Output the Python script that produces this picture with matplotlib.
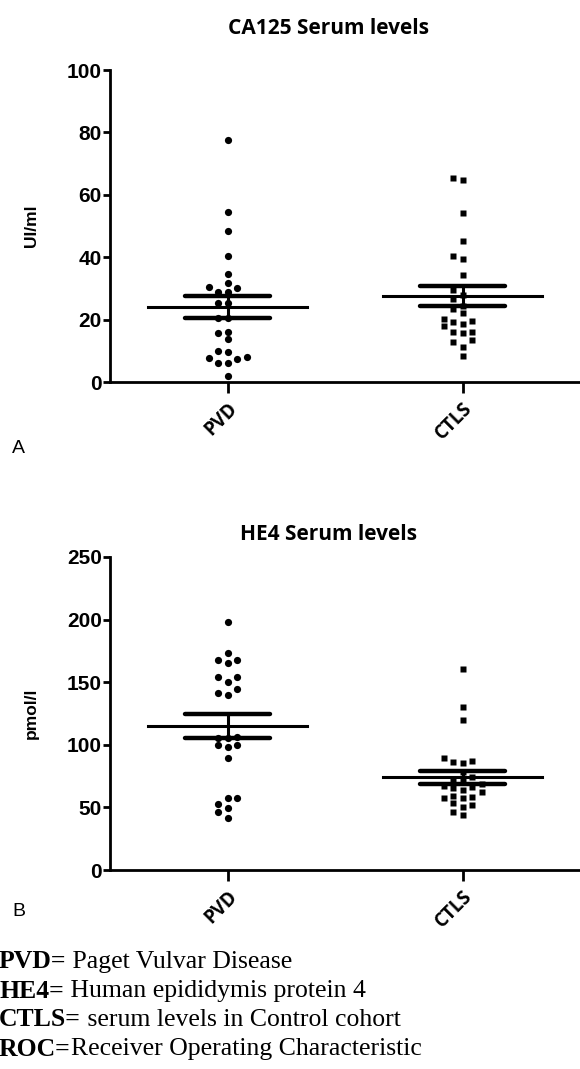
import numpy as np
import matplotlib.pyplot as plt

groups = ["PVD", "CTLS"]

# CA125 (UI/ml)
ca125_pvd = [77.6, 54.6, 48.5, 40.5, 34.5, 31.6, 30.0, 30.6, 28.7, 29.0, 25.2, 25.2,
             20.4, 20.4, 15.8, 16.1, 13.8, 9.5, 10.0, 7.3, 6.2, 6.2, 7.7, 7.9, 1.9]
ca125_ctls = [64.7, 65.3, 54.3, 45.3, 40.5, 39.4, 34.3, 29.5, 28.0, 26.5, 24.5, 23.5,
              22.0, 20.2, 19.5, 19.3, 18.5, 17.8, 16.1, 16.0, 15.6, 13.5, 12.7, 11.3, 8.3]

# HE4 (pmol/l)
he4_pvd = [197.8, 173.1, 167.7, 165.1, 167.7, 154.4, 149.9, 153.9, 141.6, 139.8, 144.8,
           105.7, 105.7, 106.0, 99.8, 99.8, 98.5, 89.7, 57.3, 52.7, 49.8, 57.3, 46.6, 41.8]
he4_ctls = [160.5, 130.5, 119.8, 89.2, 87.3, 86.0, 85.2, 78.0, 74.0, 72.0, 71.0, 69.0,
            67.0, 66.0, 65.2, 63.9, 62.6, 59.1, 58.5, 57.2, 57.2, 53.2, 51.9, 50.0, 46.6, 43.9]

notes_bold = ["PVD=", "HE4=", "CTLS=", "ROC="]
notes_text = [" Paget Vulvar Disease", " Human epididymis protein 4",
              " serum levels in Control cohort", "Receiver Operating Characteristic"]

W, H = 580, 1069
fig = plt.figure(figsize=(W / 100, H / 100), dpi=100)


def swarm(vals, px_per_unit, dot=7.0):
    # simple beeswarm: integer slots, 0, -1, +1, -2, ...
    vals = np.asarray(vals)
    slots = np.zeros(len(vals))
    placed = []
    for i in np.argsort(vals):
        y = vals[i] * px_per_unit
        for s in [0, -1, 1, -2, 2, -3, 3]:
            if all(ps != s or abs(y - py) >= dot for py, ps in placed):
                break
        placed.append((y, s))
        slots[i] = s
    return slots


def panel(rect, pvd, ctls, ymax, ystep, title, ylabel, letter, title_y, letter_y):
    ax = fig.add_axes(rect)
    ax.set_xlim(0.5, 2.5)
    ax.set_ylim(0, ymax)
    ax_h = rect[3] * H
    ax_w = rect[2] * W
    px_y = ax_h / ymax
    step_x = 9.5 / ax_w * 2.0

    for k, (vals, m) in enumerate([(pvd, 'o'), (ctls, 's')]):
        x0 = k + 1
        vals = np.asarray(vals)
        xs = x0 + swarm(vals, px_y) * step_x
        ax.plot(xs, vals, ls='', marker=m, ms=5.2 if m == 'o' else 4.8, color='black',
                mec='none', zorder=3, clip_on=False)
        mean = vals.mean()
        sem = vals.std(ddof=1) / np.sqrt(len(vals))
        ax.plot([x0 - 0.34, x0 + 0.34], [mean, mean], color='black', lw=2.2, zorder=4)
        ax.plot([x0, x0], [mean - sem, mean + sem], color='black', lw=2.2, zorder=4)
        for v in (mean - sem, mean + sem):
            ax.plot([x0 - 0.18, x0 + 0.18], [v, v], color='black', lw=3.2, zorder=4,
                    solid_capstyle='round')

    for s in ['top', 'right']:
        ax.spines[s].set_visible(False)
    for s in ['left', 'bottom']:
        ax.spines[s].set_linewidth(2)
    ax.set_yticks(np.arange(0, ymax + 1, ystep))
    ax.set_xticks([1, 2])
    ax.set_xticklabels(groups, rotation=45, ha='right', va='top', rotation_mode='anchor',
                       fontweight='bold', family='Open Sans', fontsize=13.5)
    ax.tick_params(axis='y', length=5, width=2, pad=1, labelsize=15)
    ax.tick_params(axis='x', length=8, width=2, pad=4)
    for t in ax.get_yticklabels():
        t.set_fontweight('bold')
        t.set_family('Liberation Sans')
    ax.set_ylabel(ylabel, fontweight='bold', family='Liberation Sans', fontsize=12.5,
                  labelpad=20)
    fig.text(329 / W, 1 - title_y / H, title, ha='center', va='center',
             fontweight='bold', family='Open Sans', fontsize=15)
    fig.text(12 / W, 1 - letter_y / H, letter, ha='left', va='center',
             family='Liberation Sans', fontsize=14)
    return ax


panel([110 / W, 1 - 382 / H, 470 / W, 312 / H], ca125_pvd, ca125_ctls, 100, 20,
      "CA125 Serum levels", "UI/ml", "A", 28, 448)
panel([110 / W, 1 - 870 / H, 470 / W, 313 / H], he4_pvd, he4_ctls, 250, 50,
      "HE4 Serum levels", "pmol/l", "B", 535, 912)

# footnotes: bold abbreviation followed by regular text
renderer = fig.canvas.get_renderer()
for i, (b, t) in enumerate(zip(notes_bold, notes_text)):
    y = 1 - (962 + i * 29) / H
    tb = fig.text(-1 / W, y, b, ha='left', va='center', family='Liberation Serif',
                  fontweight='bold', fontsize=18.5)
    ext = tb.get_window_extent(renderer)
    fig.text(ext.x1 / W, y, t, ha='left', va='center', family='Liberation Serif',
             fontsize=18.5)

fig.savefig("out.png", dpi=100)
